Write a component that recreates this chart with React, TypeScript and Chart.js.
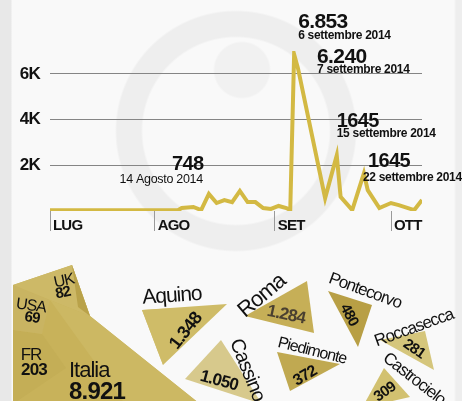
import React, { useEffect, useRef } from 'react';
import { Chart, registerables } from 'chart.js';

Chart.register(...registerables);

const FONT = "'Liberation Sans', Arial, Helvetica, sans-serif";

// ---------- line chart data (day 0 = 1 luglio 2014) ----------
const days = [4, 37, 38, 41, 43, 45, 47, 49, 51, 53, 55, 57, 59, 61, 63, 65, 66, 67, 68, 75, 78, 79, 82, 85, 86, 89, 92, 94, 98, 100];
const arrivals = [30, 30, 130, 175, 40, 748, 350, 480, 390, 876, 390, 390, 130, 90, 220, 130, 40, 6853, 6240, 565, 2430, 620, 40, 1650, 910, 130, 350, 260, 40, 480];

const monthDays = [4, 31, 62, 92];
const monthLabels = ['LUG', 'AGO', 'SET', 'OTT'];

const yTickValues = [2000, 4000, 6000];
const yTickLabels = ['2K', '4K', '6K'];

const peakDays = [67, 68, 78, 85, 45];
const peakLabels = ['6.853', '6.240', '1645', '1645', '748'];
const peakDates = ['6 settembre 2014', '7 settembre 2014', '15 settembre 2014', '22 settembre 2014', '14 Agosto 2014'];

// ---------- provenance data ----------
const regionNames = ['UK', 'USA', 'FR', 'Italia', 'Aquino', 'Roma', 'Cassino', 'Piedimonte', 'Pontecorvo', 'Roccasecca', 'Castrocielo'];
const regionValues = [82, 69, 203, 8921, 1348, 1284, 1050, 372, 480, 281, 309];

// ---------- layout (positions / styles) ----------
const LINE_COLOR = '#d3b943';

// offsets (px) of annotation text from the peak point
const peakLayout = [
  { vdx: 4, vdy: -26.4, valign: 'left', vs: 21, ddx: 4, ddy: -15.4, dalign: 'left', dw: 'bold', ds: 12 },
  { vdx: 19, vdy: -5.4, valign: 'left', vs: 21, ddx: 19, ddy: 5, dalign: 'left', dw: 'bold', ds: 12 },
  { vdx: 0, vdy: -28.5, valign: 'left', vs: 20, ddx: 0, ddy: -18, dalign: 'left', dw: 'bold', ds: 12 },
  { vdx: 4, vdy: -6.3, valign: 'left', vs: 20, ddx: -1, ddy: 7.7, dalign: 'left', dw: 'bold', ds: 12 },
  { vdx: -37, vdy: -24, valign: 'left', vs: 20, ddx: -6, ddy: -11, dalign: 'right', dw: 'normal', ds: 12.5 },
];

// polygon layout in layout units (x: 0..462, y: 240..401 downward)
const regionShapes: number[][][] = [
  [[13, 285], [72, 265], [90, 316], [50, 300]],
  [[13, 285], [50, 300], [42, 334], [13, 330]],
  [[13, 330], [42, 334], [66, 368], [13, 404]],
  [[13, 285], [72, 265], [90, 316], [200, 404], [13, 404]],
  [[142, 310], [227, 304], [163, 365]],
  [[245, 316], [307, 281], [314, 333]],
  [[221, 340], [185, 379], [262, 404]],
  [[277, 352], [340, 364], [290, 391]],
  [[328, 291], [372, 305], [358, 347]],
  [[380, 340], [425, 331], [434, 370]],
  [[362, 408], [384, 368], [410, 397]],
];
const regionColors = ['#cdb967', '#c9b462', '#c4ae56', '#c8b25a', '#cfbc68', '#c6af57', '#d7c98c', '#c0a951', '#b89f45', '#d5c67c', '#d2c170'];
const shadeShapes: number[][][] = [
  [[72, 265], [90, 316], [78, 307]],
  [[50, 300], [90, 316], [200, 404], [125, 404]],
  [[142, 310], [175, 308], [163, 365]],
];
const shadeColors = ['#b9a24a', '#ccb863', '#d6c479'];

const labelLayout = [
  { n: [64, 281, -12, 16], v: [63, 293, -12, 15] },
  { n: [31, 306, 8, 16], v: [32, 318, 8, 15] },
  { n: [31, 355, 0, 17], v: [34, 370, 0, 17] },
  { n: [69, 371, 0, 22], v: [69, 392, 0, 24], align: 'left' },
  { n: [172, 296, -4, 21], v: [186, 331, -52, 18] },
  { n: [262, 296, -40, 22], v: [286, 315, 12, 17], vColor: '#4a4030' },
  { n: [247, 370, 68, 20], v: [219, 381, 15, 17] },
  { n: [312, 351, 14, 16], v: [305, 376, -30, 16] },
  { n: [365, 291, 20, 17], v: [349, 315, 62, 15] },
  { n: [414, 328, -20, 17], v: [414, 349, 35, 15] },
  { n: [414, 379, 38, 17], v: [385, 392, -35, 15] },
];

function formatValue(n: number): string {
  if (n < 1000) return String(n);
  return `${Math.floor(n / 1000)}.${String(n % 1000).padStart(3, '0')}`;
}

function drawText(ctx: any, text: string, px: number, py: number, rot: number, font: string, color: string, align = 'center', spacing = '-1px', baseline = 'middle') {
  ctx.save();
  ctx.translate(px, py);
  ctx.rotate((rot * Math.PI) / 180);
  ctx.font = font;
  ctx.letterSpacing = spacing;
  ctx.fillStyle = color;
  ctx.textAlign = align;
  ctx.textBaseline = baseline;
  ctx.fillText(text, 0, 0);
  ctx.restore();
}

function TopChart() {
  const ref = useRef<HTMLCanvasElement>(null);
  useEffect(() => {
    const spacingPlugin = {
      id: 'spacing',
      beforeDraw(chart: any) {
        chart.ctx.letterSpacing = '-0.8px';
      },
    };
    const peakPlugin = {
      id: 'peaks',
      afterDatasetsDraw(chart: any) {
        const { ctx, scales } = chart;
        peakDays.forEach((d, i) => {
          const v = arrivals[days.indexOf(d)];
          const px = scales.x.getPixelForValue(d);
          const py = scales.y.getPixelForValue(v);
          const L = peakLayout[i];
          drawText(ctx, peakLabels[i], px + L.vdx, py + L.vdy, 0, `bold ${L.vs}px ${FONT}`, '#111', L.valign, '-0.6px', 'alphabetic');
          drawText(ctx, peakDates[i], px + L.ddx, py + L.ddy, 0, `${L.dw} ${L.ds}px ${FONT}`, '#111', L.dalign, '-0.3px', 'alphabetic');
        });
      },
    };
    const chart = new Chart(ref.current as HTMLCanvasElement, {
      type: 'line',
      data: {
        datasets: [
          {
            data: days.map((d, i) => ({ x: d, y: arrivals[i] })),
            borderColor: LINE_COLOR,
            borderWidth: 4,
            pointRadius: 0,
            tension: 0,
            fill: false,
          },
        ],
      },
      options: {
        responsive: false,
        animation: false,
        events: [],
        layout: { padding: { top: 51, right: 40, left: 0, bottom: 0 } },
        plugins: { legend: { display: false }, tooltip: { enabled: false } },
        scales: {
          x: {
            type: 'linear',
            min: 4,
            max: 100,
            afterBuildTicks: (s: any) => {
              s.ticks = monthDays.map((v) => ({ value: v }));
            },
            afterFit: (s: any) => {
              s.height = 29;
            },
            grid: { drawOnChartArea: false, drawTicks: true, tickLength: 20, color: '#9a9a9a', lineWidth: 1 },
            border: { display: false },
            ticks: {
              align: 'start',
              labelOffset: 3,
              padding: -14,
              maxRotation: 0,
              autoSkip: false,
              color: '#111',
              font: { family: FONT, weight: 'bold', size: 15 },
              callback: (v: any) => {
                const i = monthDays.indexOf(v);
                return i >= 0 ? monthLabels[i] : '';
              },
            },
          },
          y: {
            min: 0,
            max: 7000,
            afterBuildTicks: (s: any) => {
              s.ticks = [0, ...yTickValues].map((v) => ({ value: v }));
            },
            afterFit: (s: any) => {
              s.width = 50;
            },
            grid: {
              drawTicks: false,
              lineWidth: 1,
              color: (c: any) => (c.tick && c.tick.value === 0 ? 'rgba(0,0,0,0)' : '#858585'),
            },
            border: { display: false },
            ticks: {
              padding: 10,
              color: '#111',
              font: { family: FONT, weight: 'bold', size: 17 },
              callback: (v: any) => {
                const i = yTickValues.indexOf(v);
                return i >= 0 ? yTickLabels[i] : '';
              },
            },
          },
        },
      },
      plugins: [spacingPlugin, peakPlugin],
    } as any);
    return () => chart.destroy();
  }, []);
  return <canvas ref={ref} width={462} height={240} style={{ position: 'absolute', left: 0, top: 0, width: 462, height: 240 }} />;
}

function BottomChart() {
  const ref = useRef<HTMLCanvasElement>(null);
  useEffect(() => {
    const labelPlugin = {
      id: 'regionLabels',
      afterDatasetsDraw(chart: any) {
        const { ctx, scales } = chart;
        regionNames.forEach((name, i) => {
          const L: any = labelLayout[i];
          const align = L.align || 'center';
          drawText(ctx, name, scales.x.getPixelForValue(L.n[0]), scales.y.getPixelForValue(L.n[1]), L.n[2], `${L.n[3]}px ${FONT}`, '#111', align, '-1px');
          drawText(ctx, formatValue(regionValues[i]), scales.x.getPixelForValue(L.v[0]), scales.y.getPixelForValue(L.v[1]), L.v[2], `bold ${L.v[3]}px ${FONT}`, L.vColor || '#111', align, '-0.8px');
        });
      },
    };
    const toDs = (pts: number[][], color: string) => ({
      data: pts.map(([x, y]) => ({ x, y })),
      showLine: true,
      fill: 'shape',
      backgroundColor: color,
      borderColor: 'rgba(0,0,0,0)',
      borderWidth: 0,
      pointRadius: 0,
      tension: 0,
    });
    // dataset 0 is drawn on top: facets/shades first, base Italia polygon last
    const order = [10, 9, 8, 7, 6, 5, 4, 0, 1, 2];
    const datasets = [
      toDs(shadeShapes[0], shadeColors[0]),
      ...order.map((i) => toDs(regionShapes[i], regionColors[i])),
      toDs(shadeShapes[2], shadeColors[2]),
      toDs(shadeShapes[1], shadeColors[1]),
      toDs(regionShapes[3], regionColors[3]),
    ];
    const chart = new Chart(ref.current as HTMLCanvasElement, {
      type: 'scatter',
      data: { datasets },
      options: {
        responsive: false,
        animation: false,
        events: [],
        layout: { padding: 0 },
        plugins: { legend: { display: false }, tooltip: { enabled: false } },
        scales: {
          x: { type: 'linear', display: false, min: 0, max: 462 },
          y: { type: 'linear', display: false, min: 240, max: 401, reverse: true },
        },
      },
      plugins: [labelPlugin],
    } as any);
    return () => chart.destroy();
  }, []);
  return <canvas ref={ref} width={462} height={161} style={{ position: 'absolute', left: 0, top: 240, width: 462, height: 161 }} />;
}

export default function App() {
  useEffect(() => {
    document.body.style.margin = '0';
  }, []);
  const bg = [
    'radial-gradient(circle at 242px 70px, #f1f1f1 0, #f1f1f1 27px, rgba(241,241,241,0) 29px)',
    'radial-gradient(circle at 236px 131px, rgba(238,238,238,0) 0, rgba(238,238,238,0) 93px, #eeeeee 95px, #eeeeee 119px, rgba(238,238,238,0) 121px)',
    'linear-gradient(to right, #e8e8e8 0, #e8e8e8 11px, rgba(0,0,0,0) 12px)',
    'linear-gradient(to left, #eeeeee 0, #eeeeee 6px, rgba(0,0,0,0) 8px)',
    '#f9f9f9',
  ].join(', ');
  return (
    <div style={{ position: 'relative', width: 462, height: 401, overflow: 'hidden', background: bg }}>
      <TopChart />
      <BottomChart />
    </div>
  );
}
